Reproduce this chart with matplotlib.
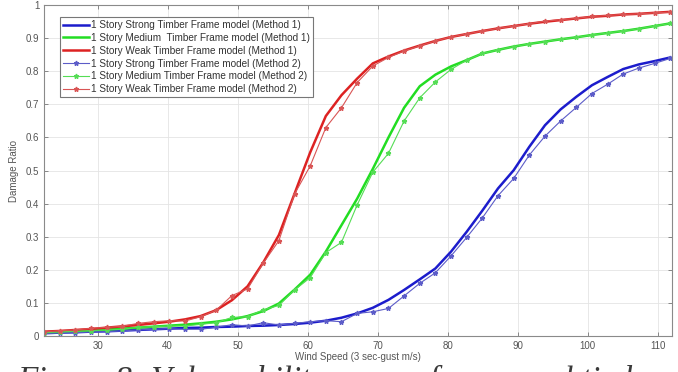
import matplotlib
matplotlib.use("Agg")
import matplotlib.pyplot as plt

plt.rcParams["font.family"] = ["Liberation Sans", "DejaVu Sans"]

# wind speeds were run in mph (50..250 step 5), plotted in m/s
speed_mph = [50, 55, 60, 65, 70, 75, 80, 85, 90, 95, 100, 105, 110, 115, 120, 125,
             130, 135, 140, 145, 150, 155, 160, 165, 170, 175, 180, 185, 190, 195,
             200, 205, 210, 215, 220, 225, 230, 235, 240, 245, 250]
speed = [v * 0.44704 for v in speed_mph]

strong_m1 = [0.008, 0.010, 0.011, 0.013, 0.014, 0.016, 0.018, 0.020, 0.022, 0.024,
             0.025, 0.027, 0.028, 0.030, 0.031, 0.033, 0.036, 0.040, 0.046, 0.055,
             0.068, 0.085, 0.109, 0.139, 0.171, 0.204, 0.255, 0.315, 0.379, 0.446,
             0.501, 0.572, 0.637, 0.685, 0.723, 0.758, 0.783, 0.807, 0.821, 0.831, 0.842]
medium_m1 = [0.010, 0.012, 0.014, 0.016, 0.019, 0.022, 0.025, 0.028, 0.031, 0.034,
             0.038, 0.043, 0.050, 0.060, 0.075, 0.098, 0.140, 0.185, 0.255, 0.335,
             0.415, 0.505, 0.600, 0.690, 0.755, 0.790, 0.815, 0.834, 0.854, 0.865,
             0.875, 0.883, 0.890, 0.897, 0.903, 0.910, 0.916, 0.922, 0.929, 0.937, 0.945]
weak_m1 = [0.013, 0.015, 0.018, 0.021, 0.025, 0.029, 0.033, 0.038, 0.043, 0.050,
           0.060, 0.078, 0.108, 0.150, 0.222, 0.305, 0.430, 0.555, 0.665, 0.728,
           0.778, 0.824, 0.845, 0.863, 0.878, 0.892, 0.904, 0.913, 0.922, 0.930,
           0.937, 0.944, 0.950, 0.955, 0.960, 0.965, 0.968, 0.972, 0.974, 0.977, 0.980]

strong_m2 = [0.008, 0.009, 0.010, 0.012, 0.013, 0.015, 0.018, 0.020, 0.022, 0.020,
             0.020, 0.026, 0.034, 0.030, 0.040, 0.033, 0.038, 0.043, 0.046, 0.043,
             0.068, 0.073, 0.083, 0.121, 0.159, 0.191, 0.242, 0.298, 0.357, 0.424,
             0.476, 0.547, 0.604, 0.650, 0.691, 0.733, 0.761, 0.792, 0.810, 0.824, 0.839]
medium_m2 = [0.010, 0.012, 0.014, 0.016, 0.018, 0.020, 0.026, 0.028, 0.030, 0.030,
             0.035, 0.040, 0.056, 0.058, 0.079, 0.092, 0.139, 0.176, 0.252, 0.283,
             0.396, 0.495, 0.552, 0.650, 0.720, 0.768, 0.806, 0.834, 0.854, 0.865,
             0.875, 0.883, 0.890, 0.897, 0.903, 0.910, 0.916, 0.922, 0.929, 0.937, 0.945]
weak_m2 = [0.012, 0.016, 0.018, 0.023, 0.026, 0.029, 0.038, 0.043, 0.046, 0.045,
           0.058, 0.078, 0.122, 0.142, 0.220, 0.288, 0.429, 0.514, 0.630, 0.690,
           0.766, 0.816, 0.842, 0.862, 0.877, 0.892, 0.904, 0.913, 0.922, 0.930,
           0.937, 0.944, 0.952, 0.956, 0.960, 0.966, 0.969, 0.972, 0.974, 0.977, 0.979]

labels_m1 = ["1 Story Strong Timber Frame model (Method 1)",
             "1 Story Medium  Timber Frame model (Method 1)",
             "1 Story Weak Timber Frame model (Method 1)"]
labels_m2 = ["1 Story Strong Timber Frame model (Method 2)",
             "1 Story Medium Timber Frame model (Method 2)",
             "1 Story Weak Timber Frame model (Method 2)"]
x_ticks = [30, 40, 50, 60, 70, 80, 90, 100, 110]
y_ticks = [0, 0.1, 0.2, 0.3, 0.4, 0.5, 0.6, 0.7, 0.8, 0.9, 1]
y_ticklabels = ["0", "0.1", "0.2", "0.3", "0.4", "0.5", "0.6", "0.7", "0.8", "0.9", "1"]

colors = ["#1c1ccc", "#22dd22", "#dd2222"]
light = ["#5c5cc8", "#55dd55", "#d95555"]

fig = plt.figure(figsize=(6.78, 3.72), dpi=100)
ax = fig.add_axes([0.065, 0.097, 0.926, 0.889])

for ys, c, lab in zip([strong_m1, medium_m1, weak_m1], colors, labels_m1):
    ax.plot(speed, ys, color=c, lw=1.8, label=lab)
for ys, c, lab in zip([strong_m2, medium_m2, weak_m2], light, labels_m2):
    ax.plot(speed, ys, color=c, lw=0.8, marker="*", ms=3.5, label=lab)

ax.set_xlim(22.35, 112.0)
ax.set_ylim(0, 1)
ax.set_xticks(x_ticks)
ax.set_yticks(y_ticks)
ax.set_yticklabels(y_ticklabels)
ax.grid(True, color="#e4e4e4", lw=0.6)
ax.tick_params(direction="in", top=True, right=True, length=3, width=0.6,
               labelsize=7, colors="#777777", labelcolor="#555555")
for s in ax.spines.values():
    s.set_color("#8a8a8a")
    s.set_linewidth(0.8)

ax.set_xlabel("Wind Speed (3 sec-gust m/s)", fontsize=7, color="#555555", labelpad=1)
ax.set_ylabel("Damage Ratio", fontsize=7, color="#555555", labelpad=5)

leg = ax.legend(loc="upper left", bbox_to_anchor=(0.0255, 0.964), fontsize=7.2,
                handlelength=2.6, handletextpad=0.2, labelspacing=0.28,
                borderpad=0.3, fancybox=False, framealpha=1, borderaxespad=0)
leg.get_frame().set_edgecolor("#777777")
leg.get_frame().set_linewidth(0.8)
for t in leg.get_texts():
    t.set_color("#333333")

fig.text(0.025, -0.045, "Figure 8: Vulnerability curves for several timber",
         fontsize=24, style="italic", family="Liberation Serif", color="#3a3a3a",
         va="baseline")

fig.savefig("out.png", dpi=100)
